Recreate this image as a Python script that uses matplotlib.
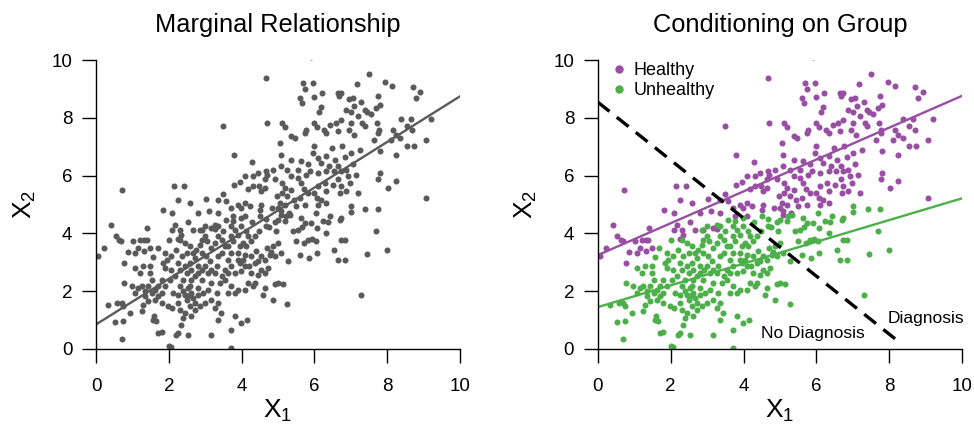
import matplotlib
matplotlib.use("Agg")
from matplotlib import pyplot as plt
from matplotlib.lines import Line2D
import numpy as np

plt.rcParams['font.family'] = ['Liberation Sans', 'DejaVu Sans']

# points (x1, x2)
healthy_pts = [
    (5.90, 10.12), (4.66, 9.37), (7.49, 9.53), (5.69, 9.21), (5.96, 9.21), (5.75, 9.00),
    (7.95, 9.25), (8.14, 9.12), (7.17, 9.16), (8.71, 9.06), (8.91, 8.89), (8.78, 8.70),
    (6.20, 8.87), (5.60, 8.69), (5.66, 8.52), (5.98, 8.73), (6.64, 8.85), (6.73, 8.87),
    (6.67, 8.76), (6.96, 8.64), (7.06, 8.69), (7.29, 8.54), (7.10, 8.43), (7.74, 8.75),
    (7.81, 8.46), (7.68, 8.35), (7.38, 8.26), (7.45, 8.20), (6.17, 8.37), (6.12, 8.20),
    (6.87, 8.26), (7.00, 8.20), (7.20, 8.06), (7.56, 8.15), (9.19, 7.96), (8.66, 7.96),
    (8.38, 7.96), (7.72, 7.83), (7.32, 7.83), (7.38, 7.72), (6.72, 7.94), (6.58, 7.81),
    (7.01, 7.83), (6.44, 7.74), (6.00, 7.84), (6.08, 7.68), (6.26, 7.60), (6.33, 7.48),
    (4.71, 7.84), (5.12, 7.84), (5.18, 7.68), (5.78, 7.60), (5.73, 7.48), (6.64, 7.54),
    (6.94, 7.60), (7.08, 7.42), (7.78, 7.60), (8.15, 7.60), (8.23, 7.42), (8.11, 7.25),
    (8.53, 7.72), (8.69, 7.60), (8.36, 7.31), (7.76, 7.48), (7.63, 7.25), (3.49, 7.71),
    (5.37, 7.37), (5.46, 7.31), (9.07, 7.23), (8.55, 7.04), (8.73, 7.04), (7.79, 6.85),
    (8.24, 6.73), (5.05, 7.14), (6.00, 7.02), (5.97, 6.79), (6.49, 6.96), (6.75, 7.04),
    (7.24, 6.90), (7.01, 6.79), (6.10, 6.62), (6.33, 6.67), (6.57, 6.56), (3.78, 6.73),
    (5.07, 6.70), (5.37, 6.56), (5.64, 6.50), (4.29, 6.47), (6.83, 6.64), (7.06, 6.42),
    (5.82, 6.42), (6.19, 6.45), (6.39, 6.33), (6.66, 6.33), (6.73, 6.16), (6.87, 6.21),
    (6.54, 6.16), (6.33, 6.16), (6.10, 6.10), (5.87, 6.16), (5.55, 6.21), (5.26, 6.19),
    (5.09, 6.33), (4.87, 6.21), (4.68, 6.16), (4.70, 6.04), (4.45, 6.10), (4.09, 5.98),
    (4.31, 5.98), (4.63, 5.87), (4.91, 5.89), (5.37, 5.98), (5.55, 5.92), (5.78, 6.04),
    (7.15, 6.04), (7.79, 6.10), (7.76, 5.87), (8.24, 5.81), (8.03, 5.58), (9.07, 5.23),
    (2.15, 5.66), (2.41, 5.66), (0.71, 5.50), (3.80, 5.67), (3.95, 5.77), (4.18, 5.54),
    (4.31, 5.64), (4.49, 5.64), (4.54, 5.46), (4.63, 5.58), (5.12, 5.75), (5.18, 5.58),
    (5.11, 5.40), (5.37, 5.52), (5.26, 5.29), (4.98, 5.29), (5.62, 5.75), (5.71, 5.54),
    (5.82, 5.40), (6.10, 5.64), (6.00, 5.40), (6.28, 5.75), (6.33, 5.46), (6.52, 5.69),
    (6.66, 5.87), (6.73, 5.64), (6.87, 5.46), (6.97, 5.75), (6.92, 5.98), (7.20, 5.40),
    (6.69, 5.40), (6.08, 5.23), (6.19, 5.17), (6.33, 5.06), (6.10, 5.00), (5.60, 5.23),
    (5.44, 5.17), (5.50, 4.94), (5.73, 5.00), (5.05, 5.06), (5.18, 5.00), (5.09, 4.77),
    (5.00, 4.88), (5.09, 4.65), (5.29, 4.71), (4.84, 4.88), (4.54, 5.00), (4.50, 4.83),
    (4.24, 4.94), (4.09, 5.06), (3.90, 5.00), (3.99, 4.88), (3.72, 4.88), (4.09, 4.60),
    (3.49, 5.35), (3.35, 5.17), (3.57, 5.12), (3.35, 4.71), (3.77, 4.60), (3.03, 5.20),
    (3.10, 4.77), (2.80, 4.71), (2.58, 5.06), (2.26, 5.17), (2.08, 4.71), (1.83, 4.80),
    (2.53, 4.39), (2.67, 4.13), (2.90, 4.13), (3.17, 4.19), (3.28, 4.16), (2.30, 4.13),
    (2.10, 4.13), (2.33, 3.96), (2.26, 3.81), (2.17, 4.30), (1.41, 4.19), (0.41, 4.30),
    (0.54, 3.90), (0.68, 3.73), (0.63, 3.78), (1.21, 3.78), (1.33, 3.78), (1.39, 3.78),
    (1.48, 3.50), (1.16, 3.50), (1.02, 3.73), (0.23, 3.50), (0.06, 3.21), (0.77, 2.98),
    (0.87, 3.35), (1.07, 3.33), (1.32, 3.38),
]

unhealthy_pts = [
    (7.01, 4.94), (7.01, 4.73), (7.40, 4.85), (7.74, 4.85), (6.73, 4.54), (6.69, 4.48),
    (7.68, 4.07), (8.00, 3.42), (7.45, 3.30), (7.29, 1.88), (6.64, 3.07), (6.83, 3.07),
    (6.72, 3.79), (6.83, 3.79), (6.55, 3.44), (6.05, 4.71), (5.91, 4.36), (6.08, 4.19),
    (6.23, 4.42), (6.37, 4.39), (6.42, 4.60), (6.33, 4.02), (6.08, 3.33), (5.83, 3.79),
    (5.93, 3.81), (6.05, 3.73), (5.71, 3.67), (5.50, 3.73), (5.41, 4.07), (5.55, 4.13),
    (5.67, 4.23), (5.73, 4.36), (5.64, 4.54), (5.32, 4.65), (5.23, 4.60), (5.18, 4.42),
    (5.59, 3.27), (5.86, 3.15), (5.27, 3.04), (5.00, 3.67), (5.09, 3.33), (5.14, 2.25),
    (5.00, 2.29), (4.91, 2.25), (5.26, 1.56), (4.86, 1.71), (5.00, 4.48), (4.91, 4.39),
    (4.68, 4.50), (4.68, 4.25), (4.74, 4.23), (4.95, 4.07), (4.86, 3.56), (4.82, 3.35),
    (4.91, 3.21), (4.71, 3.50), (4.77, 3.27), (4.63, 3.09), (4.54, 3.21), (4.45, 3.04),
    (4.39, 3.38), (4.54, 2.75), (4.63, 2.63), (4.72, 2.81), (4.45, 2.57), (4.36, 2.29),
    (4.27, 2.63), (4.31, 2.17), (4.18, 2.29), (4.63, 2.11), (4.59, 1.88), (4.47, 4.07),
    (4.36, 3.90), (4.27, 3.73), (4.13, 3.56), (4.29, 4.39), (4.50, 4.60), (3.99, 4.54),
    (3.77, 4.42), (3.72, 4.25), (3.83, 4.13), (3.90, 3.96), (3.72, 3.90), (3.77, 3.73),
    (3.63, 3.56), (3.90, 3.33), (4.09, 3.27), (4.04, 3.09), (3.95, 2.98), (4.09, 2.86),
    (3.99, 2.69), (3.90, 3.09), (3.81, 2.63), (3.72, 2.86), (3.63, 3.09), (3.54, 2.75),
    (3.63, 2.63), (3.45, 3.33), (3.54, 3.56), (3.45, 3.79), (3.36, 3.90), (3.49, 4.07),
    (3.35, 4.25), (3.26, 3.67), (3.17, 3.50), (3.06, 3.73), (2.99, 3.90), (2.90, 3.78),
    (2.86, 3.61), (2.76, 3.44), (2.67, 3.33), (2.71, 3.15), (2.90, 3.33), (3.03, 3.21),
    (3.13, 3.04), (2.99, 2.86), (3.17, 2.75), (3.31, 2.86), (3.26, 2.63), (3.45, 2.52),
    (3.40, 2.29), (3.54, 2.40), (3.72, 2.17), (3.63, 1.94), (3.81, 1.94), (3.90, 2.06),
    (4.09, 2.06), (3.17, 2.29), (3.08, 2.06), (2.90, 2.40), (2.81, 2.63), (2.71, 2.52),
    (2.81, 2.11), (2.94, 1.94), (3.31, 1.94), (3.35, 1.59), (3.26, 1.42), (3.17, 1.71),
    (2.99, 1.59), (2.85, 1.48), (2.71, 1.36), (2.71, 1.59), (2.58, 1.48), (2.53, 1.82),
    (2.62, 1.94), (2.44, 1.88), (2.49, 1.71), (2.53, 2.11), (2.39, 2.40), (2.49, 2.63),
    (2.62, 2.75), (2.58, 2.98), (2.44, 2.86), (2.30, 2.75), (2.26, 2.98), (2.35, 3.21),
    (2.49, 3.33), (2.58, 3.56), (2.44, 3.67), (2.30, 3.78), (2.21, 3.44), (2.07, 3.21),
    (1.94, 3.09), (1.85, 2.98), (1.89, 2.81), (2.07, 2.75), (2.17, 2.52), (2.03, 2.40),
    (1.89, 2.17), (1.80, 2.40), (1.71, 2.17), (1.80, 1.94), (1.62, 2.06), (1.53, 1.94),
    (1.44, 2.17), (1.35, 2.00), (1.25, 2.17), (1.16, 2.11), (0.98, 2.17), (1.07, 1.94),
    (1.35, 1.82), (1.44, 1.65), (1.62, 1.71), (1.71, 1.82), (1.80, 1.59), (1.99, 1.48),
    (2.08, 1.42), (2.26, 1.59), (2.30, 1.36), (2.44, 1.25), (2.62, 1.13), (2.39, 1.07),
    (2.33, 0.84), (2.53, 0.50), (2.26, 0.55), (2.21, 0.50), (1.80, 0.58), (1.71, 0.55),
    (2.00, 0.12), (2.06, 0.07), (3.17, 0.50), (3.72, 0.03), (3.72, 0.67), (3.83, 1.13),
    (3.99, 0.90), (4.16, 0.99), (3.43, 1.25), (3.35, 1.02), (1.60, 1.13), (1.64, 0.96),
    (1.57, 1.02), (1.25, 1.30), (1.30, 1.53), (0.93, 1.25), (0.75, 1.48), (0.70, 1.59),
    (0.57, 1.59), (0.34, 1.53), (0.75, 0.96), (0.52, 0.92), (0.70, 0.35), (0.78, 2.29),
    (1.21, 2.63), (1.07, 2.81), (1.30, 2.86), (1.48, 2.86), (1.48, 2.63), (1.53, 2.40),
    (1.57, 3.19), (1.69, 3.50), (1.89, 3.33), (2.01, 3.79), (2.86, 4.13), (2.99, 4.25),
    (3.26, 4.30), (3.58, 4.48), (3.99, 4.25), (4.13, 4.07), (4.18, 3.90), (4.04, 3.67),
    (4.27, 3.21), (4.36, 2.98), (4.20, 2.86), (3.95, 3.56), (3.72, 3.33), (3.35, 3.21),
    (2.81, 2.86), (2.92, 2.75), (3.08, 2.63), (2.62, 2.40), (2.30, 2.17), (2.39, 2.00),
    (2.58, 2.17), (2.67, 1.76), (2.81, 1.88), (2.26, 1.88), (2.12, 1.94),
]

# fitted lines: (intercept, slope)
marginal_fit = (0.85, 0.79)
healthy_fit = (3.25, 0.552)
unhealthy_fit = (1.45, 0.377)
# decision boundary: (intercept, slope, x end)
boundary = (8.55, -1.005, 8.25)

group_names = ["Healthy", "Unhealthy"]
colors = ["#984ea3", "#4daf4a"]
grey = "#5a5a5a"

hx, hy = np.array(healthy_pts).T
ux, uy = np.array(unhealthy_pts).T
all_x = np.concatenate([hx, ux])
all_y = np.concatenate([hy, uy])

fig = plt.figure(figsize=(9.74, 4.33), dpi=100)
ax1 = fig.add_axes([0.0986, 0.194, 0.3737, 0.667])
ax2 = fig.add_axes([0.6137, 0.194, 0.3743, 0.667])

msize = 19


def style_axes(ax, title):
    ax.set_xlim(0, 10)
    ax.set_ylim(0, 10)
    for s in ["top", "right"]:
        ax.spines[s].set_visible(False)
    for s in ["left", "bottom"]:
        ax.spines[s].set_linewidth(1.0)
    ax.set_xticks([0, 2, 4, 6, 8, 10])
    ax.set_yticks([0, 2, 4, 6, 8, 10])
    ax.tick_params(axis="x", direction="out", length=10, width=1.0, pad=11, labelsize=13.5)
    ax.tick_params(axis="y", direction="out", length=10, width=1.0, pad=7, labelsize=13.5)
    ax.set_xlabel(r"$\mathregular{X_1}$", fontsize=19, labelpad=2)
    ax.set_ylabel(r"$\mathregular{X_2}$", fontsize=19, labelpad=10)
    ax.set_title(title, fontsize=18.3, pad=20)


xs = np.array([0, 10])

# marginal panel
ax1.scatter(all_x, all_y, s=msize, color=grey, linewidths=0)
ax1.plot(xs, marginal_fit[0] + marginal_fit[1] * xs, color=grey, lw=1.7)
style_axes(ax1, "Marginal Relationship")

# conditional panel
ax2.scatter(hx, hy, s=msize, color=colors[0], linewidths=0)
ax2.scatter(ux, uy, s=msize, color=colors[1], linewidths=0)
ax2.plot(xs, healthy_fit[0] + healthy_fit[1] * xs, color=colors[0], lw=1.7)
ax2.plot(xs, unhealthy_fit[0] + unhealthy_fit[1] * xs, color=colors[1], lw=1.7)
bx = np.array([0, boundary[2]])
ax2.plot(bx, boundary[0] + boundary[1] * bx, color="black", lw=2.4, ls=(0, (4.5, 2.8)))
ax2.text(5.9, 0.55, "No Diagnosis", ha="center", va="center", fontsize=12.5)
ax2.text(9.0, 1.07, "Diagnosis", ha="center", va="center", fontsize=12.5)

handles = [Line2D([], [], marker="o", ls="", color=c, markersize=5) for c in colors]
ax2.legend(handles, group_names, loc="upper left", frameon=False, fontsize=13,
           handletextpad=0.2, borderaxespad=0.2, labelspacing=0.15,
           handlelength=1.2, bbox_to_anchor=(0.0, 1.03))
style_axes(ax2, "Conditioning on Group")

fig.savefig("out.png", dpi=100)
